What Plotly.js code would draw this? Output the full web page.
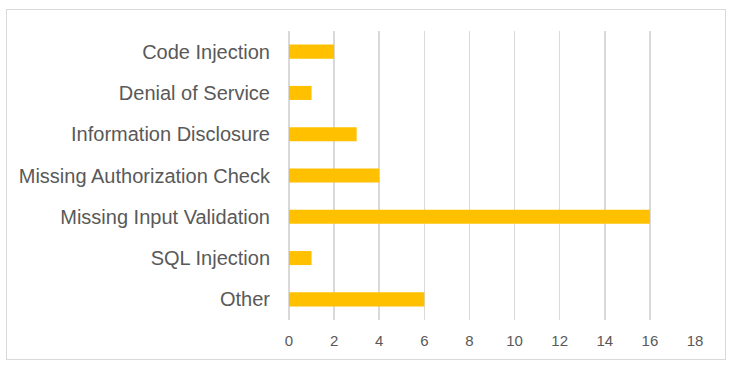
<!DOCTYPE html>
<html>
<head>
<meta charset="utf-8">
<script src="https://cdn.plot.ly/plotly-3.0.1.min.js"></script>
<style>
html,body{margin:0;padding:0;background:#fff;}
#wrap{position:relative;width:732px;height:369px;}
#frame{position:absolute;left:6px;top:9px;width:718px;height:349px;border:1.5px solid #d9d9d9;pointer-events:none;}
#chart{position:absolute;left:0;top:0;width:732px;height:369px;}
</style>
</head>
<body>
<div id="wrap"><div id="chart"></div><div id="frame"></div></div>
<script>
const categories = ["Code Injection","Denial of Service","Information Disclosure","Missing Authorization Check","Missing Input Validation","SQL Injection","Other"];
const counts = [2,1,3,4,16,1,6];
const xTicks = [0,2,4,6,8,10,12,14,16,18];

Plotly.newPlot('chart', [{
  type:'bar', orientation:'h',
  x: counts, y: categories,
  marker:{color:'#FFC000'},
  hoverinfo:'x+y'
}], {
  width:732, height:369,
  margin:{l:289, r:37, t:31, b:49},
  paper_bgcolor:'rgba(0,0,0,0)', plot_bgcolor:'rgba(0,0,0,0)',
  bargap:0.66,
  showlegend:false,
  font:{family:'Liberation Sans, Arial, sans-serif', color:'#595959'},
  xaxis:{range:[0,18], tickvals:xTicks, showgrid:true, gridcolor:'#d9d9d9', gridwidth:1.5,
         zeroline:true, zerolinecolor:'#d9d9d9', zerolinewidth:1.5, showline:false,
         ticks:'outside', ticklen:7, tickcolor:'rgba(0,0,0,0)',
         tickfont:{size:15, color:'#595959'}, fixedrange:true},
  yaxis:{type:'category', autorange:'reversed', showgrid:false, zeroline:false, showline:false,
         ticks:'outside', ticklen:14, tickcolor:'rgba(0,0,0,0)',
         tickfont:{size:20, color:'#595959'}, fixedrange:true}
}, {displayModeBar:false, staticPlot:true});
</script>
</body>
</html>
